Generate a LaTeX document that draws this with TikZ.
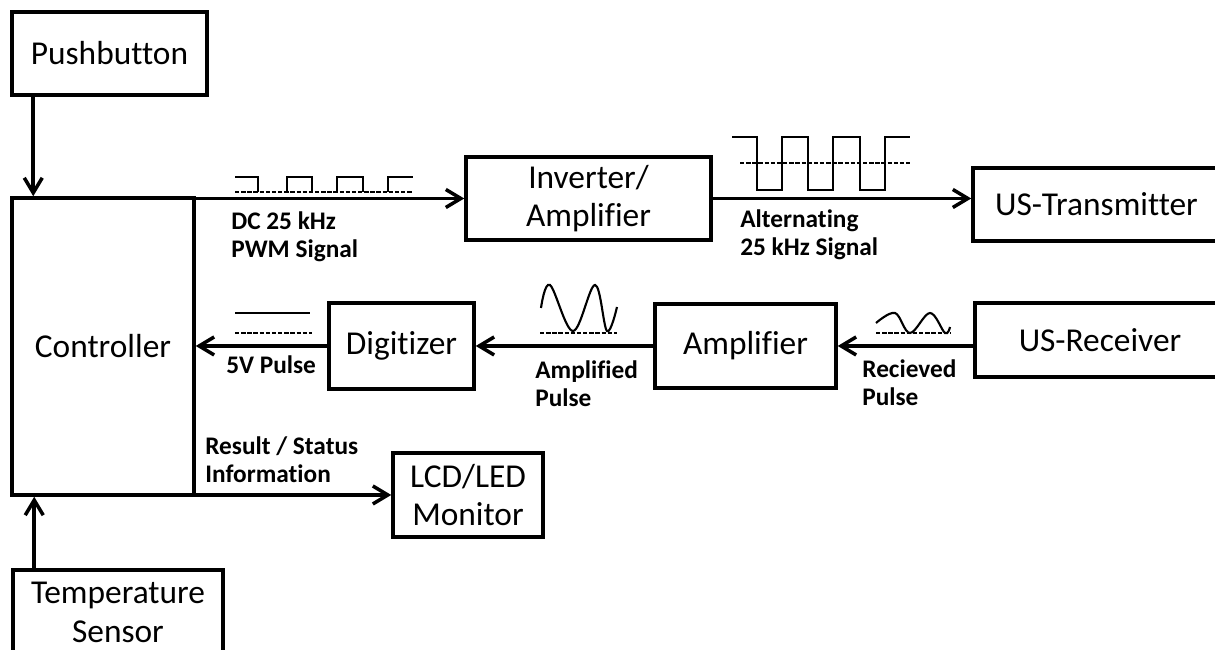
\documentclass[tikz,border=0pt]{standalone}
\usepackage{fontspec}
\setmainfont[Ligatures=NoCommon]{Carlito}
\usepackage{xcolor}
\usepackage{tikz}
\usetikzlibrary{arrows.meta,calc}
\definecolor{USInk}{HTML}{000000}
\tikzset{
  blk/.style={draw=USInk,line width=2pt,align=center,inner sep=0pt,font=\fontsize{19}{22}\selectfont},
  sig/.style={anchor=west,align=left,inner sep=0pt,font=\bfseries\fontsize{14.4}{16}\selectfont},
  flow/.style={USInk,line width=2pt,-{Straight Barb[length=3mm,width=3.6mm]}},
  wave/.style={USInk,line width=1.2pt},
  ref/.style={USInk,line width=0.9pt,dash pattern=on 2.5pt off 1pt}
}

\begin{document}
\begin{tikzpicture}[x=1cm,y=1cm]
\path[use as bounding box] (0,0) rectangle (24.30,13.00);
\node[blk,minimum width=3.90cm,minimum height=1.66cm] (push) at (2.19,11.93) {Pushbutton};
\node[blk,minimum width=3.64cm,minimum height=5.94cm] (ctrl) at (2.06,6.07) {Controller};
\node[blk,minimum width=4.20cm,minimum height=1.70cm] (temp) at (2.36,0.75) {Temperature\\Sensor};
\node[blk,minimum width=4.90cm,minimum height=1.66cm] (inv) at (11.77,9.03) {Inverter/\\Amplifier};
\node[blk,minimum width=4.94cm,minimum height=1.46cm] (ustx) at (21.93,8.91) {US-Transmitter};
\node[blk,minimum width=5.00cm,minimum height=1.48cm] (usrx) at (22.00,6.20) {US-Receiver};
\node[blk,minimum width=3.62cm,minimum height=1.68cm] (amp) at (14.91,6.08) {Amplifier};
\node[blk,minimum width=2.90cm,minimum height=1.72cm] (dig) at (8.03,6.08) {Digitizer};
\node[blk,minimum width=3.00cm,minimum height=1.68cm] (lcd) at (9.36,3.10) {LCD/LED\\Monitor};
\coordinate (pbout) at ($(push.south west)+(0.46,0)$);
\coordinate (tsout) at ($(temp.north west)+(0.46,0)$);
\draw[flow] (pbout) -- (pbout |- ctrl.north);
\draw[flow] (tsout) -- (tsout |- ctrl.south);
\draw[flow] (ctrl.east |- inv.west) -- (inv.west);
\draw[flow] (inv.east) -- (inv.east -| ustx.west);
\draw[flow] (usrx.west |- amp.east) -- (amp.east);
\draw[flow] (amp.west) -- (dig.east);
\draw[flow] (dig.west) -- (dig.west -| ctrl.east);
\draw[flow] (ctrl.east |- lcd.west) -- (lcd.west);
\node[sig] (pwmtxt) at (4.62,8.26) {DC 25 kHz\\PWM Signal};
\node[sig] (alttxt) at (14.80,8.30) {Alternating\\25 kHz Signal};
\node[sig] (dctxt) at (4.52,5.70) {5V Pulse};
\node[sig] (amptxt) at (10.70,5.32) {Amplified\\Pulse};
\node[sig] (rxtxt) at (17.24,5.34) {Recieved\\Pulse};
\node[sig] (stattxt) at (4.10,3.80) {Result / Status\\Information};
\draw[ref] (4.70,9.16) -- (8.26,9.16);
\draw[wave] (4.70,9.46) -- (5.16,9.46) -- (5.16,9.16) (5.74,9.16) -- (5.74,9.46) -- (6.24,9.46) -- (6.24,9.16) (6.74,9.16) -- (6.74,9.46) -- (7.26,9.46) -- (7.26,9.16) (7.76,9.16) -- (7.76,9.46) -- (8.26,9.46);
\draw[ref] (14.80,9.74) -- (18.20,9.74);
\draw[wave] (14.64,10.26) -- (15.14,10.26) -- (15.14,9.20) -- (15.64,9.20) -- (15.64,10.26) -- (16.16,10.26) -- (16.16,9.20) -- (16.66,9.20) -- (16.66,10.26) -- (17.20,10.26) -- (17.20,9.20) -- (17.70,9.20) -- (17.70,10.26) -- (18.20,10.26);
\draw[wave] (4.70,6.74) -- (6.20,6.74);
\draw[ref] (4.70,6.34) -- (6.24,6.34);
\draw[ref] (10.80,6.34) -- (12.34,6.34);
\draw[wave] plot[smooth,tension=0.6] coordinates {(10.82,6.84) (11.00,7.30) (11.46,6.38) (11.90,7.30) (12.14,6.38) (12.34,6.86)};
\draw[ref] (17.52,6.34) -- (19.00,6.34);
\draw[wave] plot[smooth,tension=0.6] coordinates {(17.52,6.54) (17.90,6.74) (18.20,6.34) (18.60,6.74) (18.90,6.34) (19.00,6.46)};
\end{tikzpicture}
\end{document}
